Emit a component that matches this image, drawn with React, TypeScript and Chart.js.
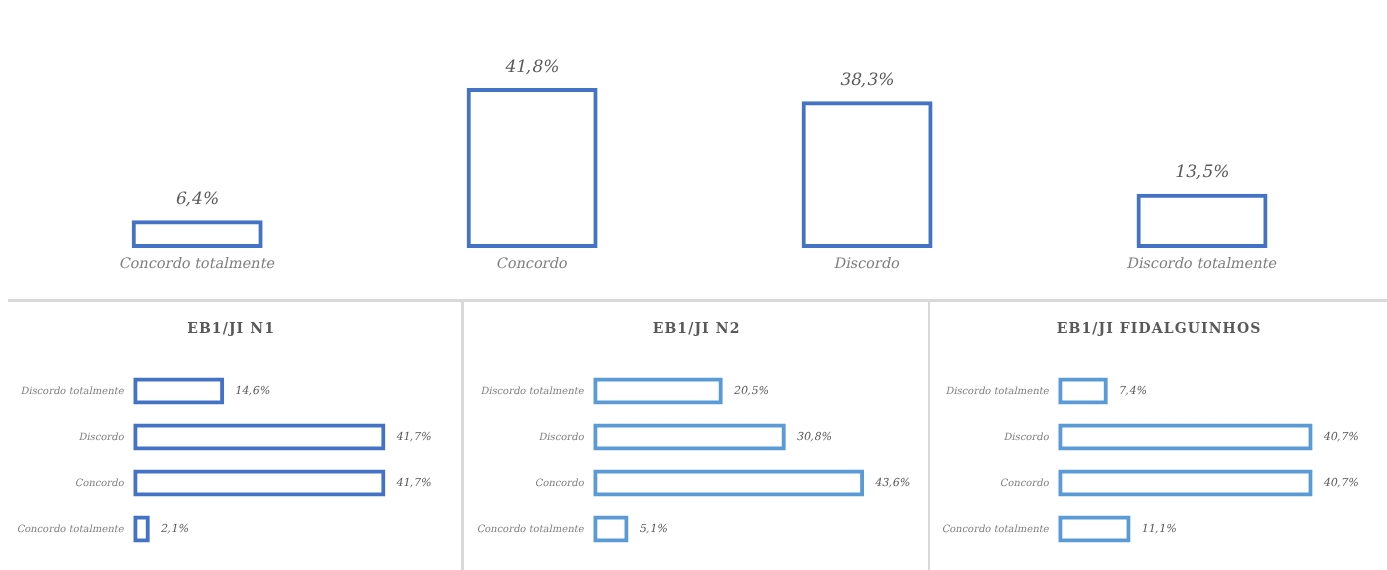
import React, { useEffect, useRef } from "react";
import { Chart, registerables } from "chart.js";

Chart.register(...registerables);

// ---------- data ----------
const overallCategories = ["Concordo totalmente", "Concordo", "Discordo", "Discordo totalmente"];
const overallValues = [6.4, 41.8, 38.3, 13.5];

const panelCategories = ["Concordo totalmente", "Concordo", "Discordo", "Discordo totalmente"];
const schoolNames = ["EB1/JI N1", "EB1/JI N2", "EB1/JI FIDALGUINHOS"];
const n1Values = [2.1, 41.7, 41.7, 14.6];
const n2Values = [5.1, 43.6, 30.8, 20.5];
const fidalguinhosValues = [11.1, 40.7, 40.7, 7.4];

// ---------- styles ----------
const FONT = '"DejaVu Serif", serif';
const LABEL_GREY = "#7F7F7F";
const VALUE_GREY = "#595959";
const LINE_GREY = "#D9D9D9";
const BLUE_DARK = "#4472C4";
const BLUE_LIGHT = "#5B9BD5";
const SLANT = -0.21;

const fmt = (v: number) => v.toFixed(1).replace(".", ",") + "%";

function drawSlanted(ctx: CanvasRenderingContext2D, text: string, x: number, y: number, align: CanvasTextAlign) {
  ctx.save();
  ctx.translate(x, y);
  ctx.transform(1, 0, SLANT, 1, 0, 0);
  ctx.textAlign = align;
  ctx.textBaseline = "middle";
  ctx.fillText(text, 0, 0);
  ctx.restore();
}

// value labels at the end of each bar (slanted serif, like the italic original)
const valueLabels = {
  id: "valueLabels",
  afterDatasetsDraw(chart: any, _args: any, opts: any) {
    const ctx = chart.ctx as CanvasRenderingContext2D;
    const meta = chart.getDatasetMeta(0);
    const data = chart.data.datasets[0].data as number[];
    ctx.save();
    ctx.font = `${opts.size}px ${FONT}`;
    ctx.fillStyle = opts.color;
    meta.data.forEach((el: any, i: number) => {
      const t = fmt(data[i]);
      if (opts.horizontal) drawSlanted(ctx, t, el.x + opts.offset, el.y, "left");
      else drawSlanted(ctx, t, el.x, el.y - opts.offset, "center");
    });
    ctx.restore();
  },
};

// category labels drawn slanted at the category scale's tick positions
const slantedTicks = {
  id: "slantedTicks",
  afterDraw(chart: any, _args: any, opts: any) {
    const ctx = chart.ctx as CanvasRenderingContext2D;
    const scale = chart.scales[opts.axis];
    const labels = chart.data.labels as string[];
    ctx.save();
    ctx.font = `${opts.size}px ${FONT}`;
    ctx.fillStyle = opts.color;
    labels.forEach((lab, i) => {
      const p = scale.getPixelForTick(i);
      if (opts.axis === "x") drawSlanted(ctx, lab, p, chart.chartArea.bottom + opts.offset, "center");
      else drawSlanted(ctx, lab, chart.chartArea.left - opts.offset, p, "right");
    });
    ctx.restore();
  },
};

const panelTitle = {
  id: "panelTitle",
  afterDraw(chart: any, _args: any, opts: any) {
    if (!opts || !opts.text) return;
    const ctx = chart.ctx;
    ctx.save();
    ctx.font = `bold ${opts.size}px ${FONT}`;
    try {
      (ctx as any).letterSpacing = opts.spacing + "px";
    } catch (e) {}
    ctx.fillStyle = opts.color;
    ctx.textAlign = "center";
    ctx.textBaseline = "middle";
    ctx.fillText(opts.text, chart.width / 2 + opts.spacing / 2, opts.y);
    ctx.restore();
  },
};

function OverallChart() {
  const ref = useRef<HTMLCanvasElement>(null);
  useEffect(() => {
    const chart = new Chart(ref.current!, {
      type: "bar",
      data: {
        labels: overallCategories,
        datasets: [
          {
            data: overallValues,
            backgroundColor: "#FFFFFF",
            borderColor: BLUE_DARK,
            borderWidth: 4,
            borderSkipped: false,
            inflateAmount: 2,
            clip: false,
            categoryPercentage: 1,
            barPercentage: 0.379,
          },
        ],
      },
      options: {
        responsive: false,
        animation: false,
        layout: { padding: { left: 29.7, right: 17.5, top: 59.5, bottom: 0 } },
        plugins: {
          legend: { display: false },
          tooltip: { enabled: false },
          valueLabels: { size: 17, color: VALUE_GREY, offset: 23, horizontal: false },
          slantedTicks: { axis: "x", size: 14.5, color: LABEL_GREY, offset: 18 },
        } as any,
        scales: {
          x: {
            grid: { display: false, drawTicks: false },
            border: { display: false },
            ticks: { font: { family: FONT, size: 14 }, color: "rgba(0,0,0,0)", padding: 10 },
            afterFit: (s: any) => {
              s.height = 53;
            },
          },
          y: { display: false, min: 0, max: 50 },
        },
      },
      plugins: [valueLabels, slantedTicks],
    });
    return () => chart.destroy();
  }, []);
  return <canvas ref={ref} width={1387} height={299} style={{ position: "absolute", left: 0, top: 0, display: "block" }} />;
}

function SchoolChart(props: {
  title: string;
  values: number[];
  color: string;
  left: number;
  width: number;
  axisWidth: number;
  padRight: number;
}) {
  const ref = useRef<HTMLCanvasElement>(null);
  useEffect(() => {
    const chart = new Chart(ref.current!, {
      type: "bar",
      data: {
        labels: panelCategories,
        datasets: [
          {
            data: props.values,
            backgroundColor: "#FFFFFF",
            borderColor: props.color,
            borderWidth: 4,
            borderSkipped: false,
            inflateAmount: 2,
            clip: false,
            categoryPercentage: 1,
            barPercentage: 0.5,
          },
        ],
      },
      options: {
        indexAxis: "y",
        responsive: false,
        animation: false,
        layout: { padding: { left: 0, right: props.padRight, top: 66, bottom: 18 } },
        plugins: {
          legend: { display: false },
          tooltip: { enabled: false },
          valueLabels: { size: 11, color: VALUE_GREY, offset: 13, horizontal: true },
          slantedTicks: { axis: "y", size: 10, color: LABEL_GREY, offset: 11 },
          panelTitle: { text: props.title, size: 14, spacing: 1.1, color: VALUE_GREY, y: 27 },
        } as any,
        scales: {
          x: { display: false, min: 0, max: 50 },
          y: {
            reverse: true,
            grid: { display: false, drawTicks: false },
            border: { display: false },
            ticks: { font: { family: FONT, size: 10 }, color: "rgba(0,0,0,0)", padding: 9 },
            afterFit: (s: any) => {
              s.width = props.axisWidth;
            },
          },
        },
      },
      plugins: [valueLabels, slantedTicks, panelTitle],
    });
    return () => chart.destroy();
  }, []);
  return (
    <canvas
      ref={ref}
      width={props.width}
      height={268}
      style={{ position: "absolute", left: props.left, top: 302, display: "block" }}
    />
  );
}

export default function App() {
  useEffect(() => {
    document.body.style.margin = "0";
    document.body.style.overflow = "hidden";
    document.body.style.background = "#FFFFFF";
  }, []);
  return (
    <div style={{ position: "relative", width: 1387, height: 570, overflow: "hidden", background: "#FFFFFF" }}>
      <OverallChart />
      <div style={{ position: "absolute", left: 8, top: 299, width: 1379, height: 3, background: LINE_GREY }} />
      <div style={{ position: "absolute", left: 461, top: 299, width: 3, height: 271, background: LINE_GREY }} />
      <div style={{ position: "absolute", left: 928, top: 299, width: 2, height: 271, background: LINE_GREY }} />
      <SchoolChart title={schoolNames[0]} values={n1Values} color={BLUE_DARK} left={0} width={461} axisWidth={135.3} padRight={28.2} />
      <SchoolChart title={schoolNames[1]} values={n2Values} color={BLUE_LIGHT} left={464} width={464} axisWidth={131.3} padRight={26.7} />
      <SchoolChart title={schoolNames[2]} values={fidalguinhosValues} color={BLUE_LIGHT} left={930} width={457} axisWidth={130.3} padRight={19.2} />
    </div>
  );
}
